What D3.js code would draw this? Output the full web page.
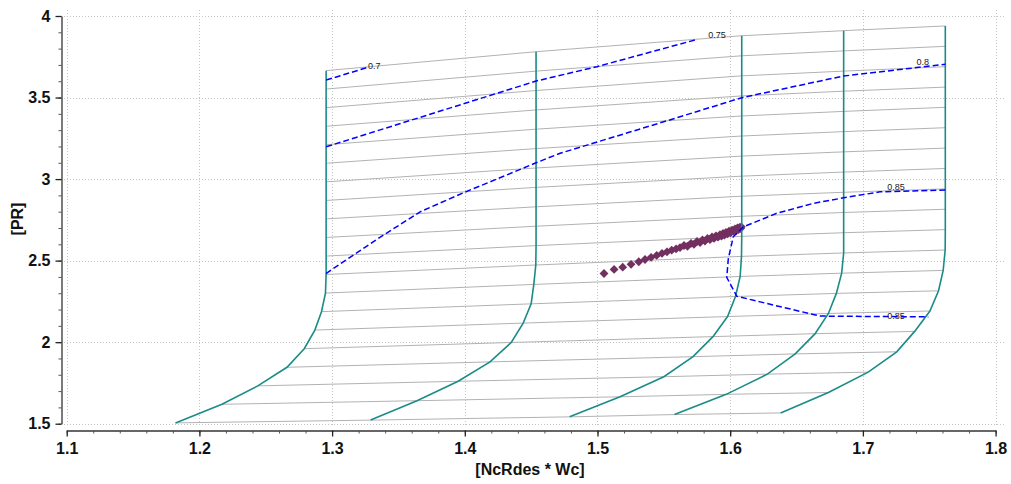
<!DOCTYPE html>
<html>
<head>
<meta charset="utf-8">
<script src="https://cdn.jsdelivr.net/npm/d3@7"></script>
<style>
  html, body { margin: 0; padding: 0; background: #ffffff; }
  svg { display: block; }
</style>
</head>
<body>
<svg id="chart" width="1011" height="484"></svg>
<script>
// ---- Axis ticks ----
const xTickValues = [1.1, 1.2, 1.3, 1.4, 1.5, 1.6, 1.7, 1.8];
const yTickValues = [1.5, 2, 2.5, 3, 3.5, 4];
const xLabel = "[NcRdes * Wc]";
const yLabel = "[PR]";

// ---- Speed lines: corrected flow (Wc) and pressure ratio (PR) at each of 20 beta points ----
const speed1Wc = [1.182, 1.217, 1.244, 1.266, 1.279, 1.287, 1.292, 1.295, 1.2955, 1.2955, 1.2955, 1.2955, 1.2955, 1.2955, 1.2955, 1.2955, 1.2955, 1.2955, 1.2955, 1.2955];
const speed1Pr = [1.505, 1.619, 1.732, 1.846, 1.960, 2.074, 2.187, 2.301, 2.415, 2.528, 2.642, 2.756, 2.869, 2.983, 3.097, 3.211, 3.324, 3.438, 3.552, 3.665];

const speed2Wc = [1.329, 1.364, 1.395, 1.419, 1.435, 1.444, 1.450, 1.452, 1.4535, 1.4537, 1.4537, 1.4537, 1.4537, 1.4537, 1.4537, 1.4537, 1.4537, 1.4537, 1.4537, 1.4537];
const speed2Pr = [1.522, 1.641, 1.760, 1.879, 1.998, 2.117, 2.235, 2.354, 2.473, 2.592, 2.711, 2.830, 2.949, 3.068, 3.187, 3.306, 3.424, 3.543, 3.662, 3.781];

const speed3Wc = [1.479, 1.517, 1.550, 1.572, 1.587, 1.598, 1.604, 1.6075, 1.6085, 1.6087, 1.6087, 1.6087, 1.6087, 1.6087, 1.6087, 1.6087, 1.6087, 1.6087, 1.6087, 1.6087];
const speed3Pr = [1.542, 1.665, 1.788, 1.911, 2.034, 2.157, 2.280, 2.403, 2.526, 2.649, 2.772, 2.895, 3.018, 3.141, 3.264, 3.387, 3.510, 3.633, 3.756, 3.879];

const speed4Wc = [1.558, 1.597, 1.628, 1.649, 1.664, 1.674, 1.680, 1.684, 1.6855, 1.6855, 1.6855, 1.6855, 1.6855, 1.6855, 1.6855, 1.6855, 1.6855, 1.6855, 1.6855, 1.6855];
const speed4Pr = [1.556, 1.680, 1.804, 1.928, 2.052, 2.176, 2.299, 2.423, 2.547, 2.671, 2.795, 2.919, 3.043, 3.167, 3.291, 3.415, 3.539, 3.662, 3.786, 3.910];

const speed5Wc = [1.638, 1.674, 1.704, 1.7255, 1.739, 1.7505, 1.757, 1.7605, 1.762, 1.7621, 1.7621, 1.7621, 1.7621, 1.7621, 1.7621, 1.7621, 1.7621, 1.7621, 1.7621, 1.7621];
const speed5Pr = [1.566, 1.691, 1.816, 1.941, 2.066, 2.191, 2.315, 2.440, 2.565, 2.690, 2.815, 2.940, 3.065, 3.190, 3.315, 3.440, 3.564, 3.689, 3.814, 3.939];

// ---- Efficiency contours ----
const eff070Wc = [1.2955, 1.3261];
const eff070Pr = [3.607, 3.683];

const eff075Wc = [1.2955, 1.4537, 1.4994, 1.5735];
const eff075Pr = [3.198, 3.601, 3.689, 3.853];

const eff080Wc = [1.2954, 1.3135, 1.3386, 1.3663, 1.3989, 1.4316, 1.4537, 1.4718, 1.5622, 1.6087, 1.6855, 1.7621];
const eff080Pr = [2.421, 2.520, 2.656, 2.799, 2.916, 3.025, 3.100, 3.158, 3.382, 3.499, 3.632, 3.704];

const eff085Wc = [1.7621, 1.7129, 1.6855, 1.6626, 1.6350, 1.6099, 1.6023, 1.5986, 1.5974, 1.6049, 1.6225, 1.6677, 1.7493];
const eff085Pr = [2.933, 2.922, 2.885, 2.851, 2.790, 2.707, 2.646, 2.513, 2.397, 2.282, 2.247, 2.160, 2.155];

// Contour label text and where it sits (Wc, PR)
const contourLabelText = ["0.7", "0.75", "0.8", "0.85", "0.85"];
const contourLabelWc = [1.3317, 1.5901, 1.7452, 1.7249, 1.7249];
const contourLabelPr = [3.693, 3.883, 3.720, 2.953, 2.160];

// ---- Operating points ----
const opWc = [1.5049, 1.5125, 1.5190, 1.5253, 1.5311, 1.5358, 1.5404, 1.5446, 1.5486, 1.5524,
              1.5559, 1.5592, 1.5622, 1.5652, 1.5678, 1.5705, 1.5727, 1.5750, 1.5773, 1.5791,
              1.5810, 1.5829, 1.5848, 1.5863, 1.5878, 1.5893, 1.5908, 1.5923, 1.5934, 1.5946,
              1.5957, 1.5968, 1.5980, 1.5991, 1.6002, 1.6014, 1.6025, 1.6036, 1.6046, 1.6055,
              1.6063, 1.6071, 1.6078, 1.6084];
const opPr = [2.421, 2.446, 2.460, 2.477, 2.493, 2.507, 2.520, 2.532, 2.544, 2.554,
              2.564, 2.572, 2.580, 2.593, 2.588, 2.606, 2.600, 2.617, 2.611, 2.627,
              2.620, 2.636, 2.629, 2.645, 2.636, 2.652, 2.644, 2.659, 2.650, 2.666,
              2.657, 2.673, 2.665, 2.680, 2.671, 2.687, 2.679, 2.694, 2.685, 2.700,
              2.691, 2.704, 2.697, 2.707];

// ---- Build ----
const speedWc = [speed1Wc, speed2Wc, speed3Wc, speed4Wc, speed5Wc];
const speedPr = [speed1Pr, speed2Pr, speed3Pr, speed4Pr, speed5Pr];
const speeds = speedWc.map((wc, s) => wc.map((w, i) => [w, speedPr[s][i]]));
const betaCount = speed1Wc.length;
const betaLines = d3.range(betaCount).map(i => speeds.map(sp => sp[i]));
const contours = [
  [eff070Wc, eff070Pr], [eff075Wc, eff075Pr], [eff080Wc, eff080Pr], [eff085Wc, eff085Pr]
].map(([w, p]) => w.map((v, i) => [v, p[i]]));
const opPoints = opWc.map((w, i) => [w, opPr[i]]);

const svg = d3.select("#chart");
const x = d3.scaleLinear().domain([1.1, 1.8]).range([66.7, 995.6]);
const y = d3.scaleLinear().domain([1.5, 4]).range([423.7, 16]);
const line = d3.line().x(d => x(d[0])).y(d => y(d[1]));

// Grid
const grid = svg.append("g").attr("stroke", "#c4c4c4").attr("stroke-width", 1)
  .attr("stroke-dasharray", "1,2").attr("shape-rendering", "crispEdges");
grid.selectAll("line.v").data(xTickValues).join("line")
  .attr("x1", d => Math.round(x(d)) + 0.5).attr("x2", d => Math.round(x(d)) + 0.5)
  .attr("y1", 10).attr("y2", 426);
grid.selectAll("line.h").data(yTickValues).join("line")
  .attr("y1", d => Math.round(y(d)) + 0.5).attr("y2", d => Math.round(y(d)) + 0.5)
  .attr("x1", 64).attr("x2", 1006);

// Beta lines
svg.append("g").selectAll("path").data(betaLines).join("path")
  .attr("d", line).attr("fill", "none").attr("stroke", "#b2b2b2").attr("stroke-width", 1);

// Operating points
const diamond = d3.symbol().type(d3.symbolDiamond2).size(50);
svg.append("g").selectAll("path").data(opPoints).join("path")
  .attr("d", diamond)
  .attr("transform", d => `translate(${x(d[0])},${y(d[1])})`)
  .attr("fill", "#722f5f");

// Speed lines
svg.append("g").selectAll("path").data(speeds).join("path")
  .attr("d", line).attr("fill", "none").attr("stroke", "#1a8c88").attr("stroke-width", 1.6);

// Efficiency contours
svg.append("g").selectAll("path").data(contours).join("path")
  .attr("d", line).attr("fill", "none").attr("stroke", "#0000ff")
  .attr("stroke-width", 1.5).attr("stroke-dasharray", "6,3");

// Contour labels
svg.append("g").selectAll("text").data(contourLabelText).join("text")
  .attr("x", (d, i) => x(contourLabelWc[i]))
  .attr("y", (d, i) => y(contourLabelPr[i]))
  .attr("dy", "0.35em").attr("text-anchor", "middle")
  .attr("font-family", "Liberation Sans, Arial, sans-serif").attr("font-size", 9)
  .attr("fill", "#222").text(d => d);

// Axes
const fontAxis = "Liberation Sans, Arial, sans-serif";
const xAxisY = 430.5;
const yAxisX = 61.5;

const xMinor = d3.range(1.1, 1.8001, 0.02);
svg.append("g").attr("transform", `translate(0,${xAxisY})`)
  .call(d3.axisBottom(x).tickValues(xMinor).tickSize(3).tickSizeOuter(0).tickFormat(""))
  .call(g => g.selectAll(".tick line").attr("stroke", "#555"))
  .call(g => g.select(".domain").attr("stroke", "#333").attr("stroke-width", 1.3));
svg.append("g").attr("transform", `translate(0,${xAxisY})`)
  .call(d3.axisBottom(x).tickValues(xTickValues).tickSize(6).tickSizeOuter(0).tickPadding(6)
    .tickFormat(d3.format(".1f")))
  .call(g => g.select(".domain").remove())
  .call(g => g.selectAll(".tick line").attr("stroke", "#222").attr("stroke-width", 1.3))
  .call(g => g.selectAll(".tick text").attr("font-family", fontAxis).attr("font-size", 16)
    .attr("font-weight", "bold").attr("fill", "#111"));

const yMinor = d3.range(1.5, 4.0001, 0.1);
svg.append("g").attr("transform", `translate(${yAxisX},0)`)
  .call(d3.axisLeft(y).tickValues(yMinor).tickSize(3).tickSizeOuter(0).tickFormat(""))
  .call(g => g.selectAll(".tick line").attr("stroke", "#555"))
  .call(g => g.select(".domain").attr("stroke", "#333").attr("stroke-width", 1.3));
svg.append("g").attr("transform", `translate(${yAxisX},0)`)
  .call(d3.axisLeft(y).tickValues(yTickValues).tickSize(6).tickSizeOuter(0).tickPadding(5)
    .tickFormat(d3.format("")))
  .call(g => g.select(".domain").remove())
  .call(g => g.selectAll(".tick line").attr("stroke", "#222").attr("stroke-width", 1.3))
  .call(g => g.selectAll(".tick text").attr("font-family", fontAxis).attr("font-size", 16)
    .attr("font-weight", "bold").attr("fill", "#111"));

// Axis titles
svg.append("text").attr("x", 530).attr("y", 469).attr("dy", "0.35em")
  .attr("text-anchor", "middle").attr("font-family", fontAxis).attr("font-size", 16)
  .attr("font-weight", "bold").attr("fill", "#111").text(xLabel);
svg.append("text").attr("transform", "translate(17.5,219) rotate(-90)").attr("dy", "0.35em")
  .attr("text-anchor", "middle").attr("font-family", fontAxis).attr("font-size", 16)
  .attr("font-weight", "bold").attr("fill", "#111").text(yLabel);
</script>
</body>
</html>
